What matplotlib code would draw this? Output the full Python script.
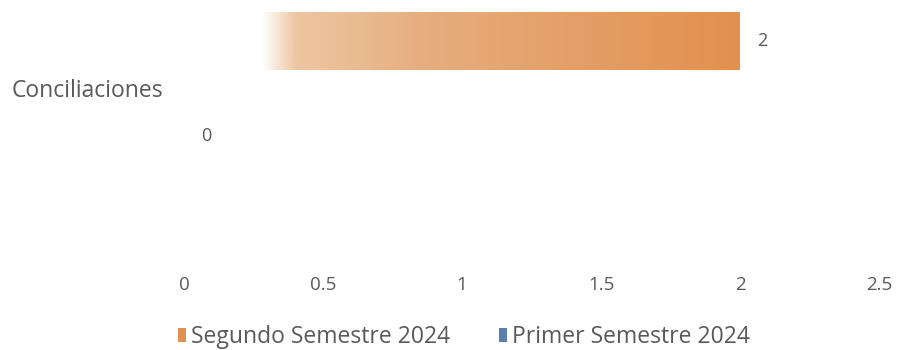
import matplotlib
matplotlib.use("Agg")
import matplotlib.pyplot as plt
import numpy as np
from matplotlib.patches import Patch
from matplotlib.colors import LinearSegmentedColormap

categories = ["Conciliaciones"]
series_names = ["Primer Semestre 2024", "Segundo Semestre 2024"]
primer = [0]
segundo = [2]
xticks = [0, 0.5, 1, 1.5, 2, 2.5]
xtick_labels = ["0", "0.5", "1", "1.5", "2", "2.5"]

plt.rcParams['font.family'] = ['Open Sans', 'DejaVu Sans']
text_color = "#595959"
orange = "#E2904F"
blue = "#5B80B0"

fig = plt.figure(figsize=(8.98, 3.5), dpi=100)
ax = fig.add_axes([184/898, 1-268/350, 695/898, 268/350])

h = 0.61
pos_primer = [0]
pos_segundo = [1]

bars_p = ax.barh(pos_primer, primer, height=h, color=blue)
bars_s = ax.barh(pos_segundo, segundo, height=h, color="none")

cmap = LinearSegmentedColormap.from_list("g", [(0, "#ffffff"), (0.14, "#ffffff"), (0.2, "#EEC6A2"), (0.45, "#E6AC7C"), (1.0, "#E2904F")])
grad = np.linspace(0, 1, 512).reshape(1, -1)
for b, v in zip(bars_s, segundo):
    y0 = b.get_y()
    im = ax.imshow(grad, cmap=cmap, aspect='auto', extent=[0, v, y0, y0 + h], zorder=2)
    im.set_clip_path(b)

for p, v in zip(pos_primer, primer):
    ax.text(v + 0.08, p, str(v), va='center', ha='center', fontsize=13, color=text_color)
for p, v in zip(pos_segundo, segundo):
    ax.text(v + 0.08, p, str(v), va='center', ha='center', fontsize=13, color=text_color)

ax.set_xlim(0, 2.5)
ax.set_ylim(-1.39, 1.43)
ax.set_xticks(xticks)
ax.set_xticklabels(xtick_labels, fontsize=13.5, color=text_color)
ax.set_yticks([0.5])
ax.set_yticklabels(categories, fontsize=16.5, color=text_color)
ax.tick_params(axis='both', length=0)
ax.tick_params(axis='x', pad=6)
ax.tick_params(axis='y', pad=15)
for s in ax.spines.values():
    s.set_visible(False)

handles = [Patch(facecolor=orange, label=series_names[1]), Patch(facecolor=blue, label=series_names[0])]
fig.legend(handles=handles, loc='center', bbox_to_anchor=(464/898, 1-337/350), ncol=2,
           frameon=False, fontsize=16.5, labelcolor=text_color, handlelength=0.35, handleheight=0.55,
           handletextpad=0.25, columnspacing=2.1)

fig.savefig("out.png", dpi=100)
